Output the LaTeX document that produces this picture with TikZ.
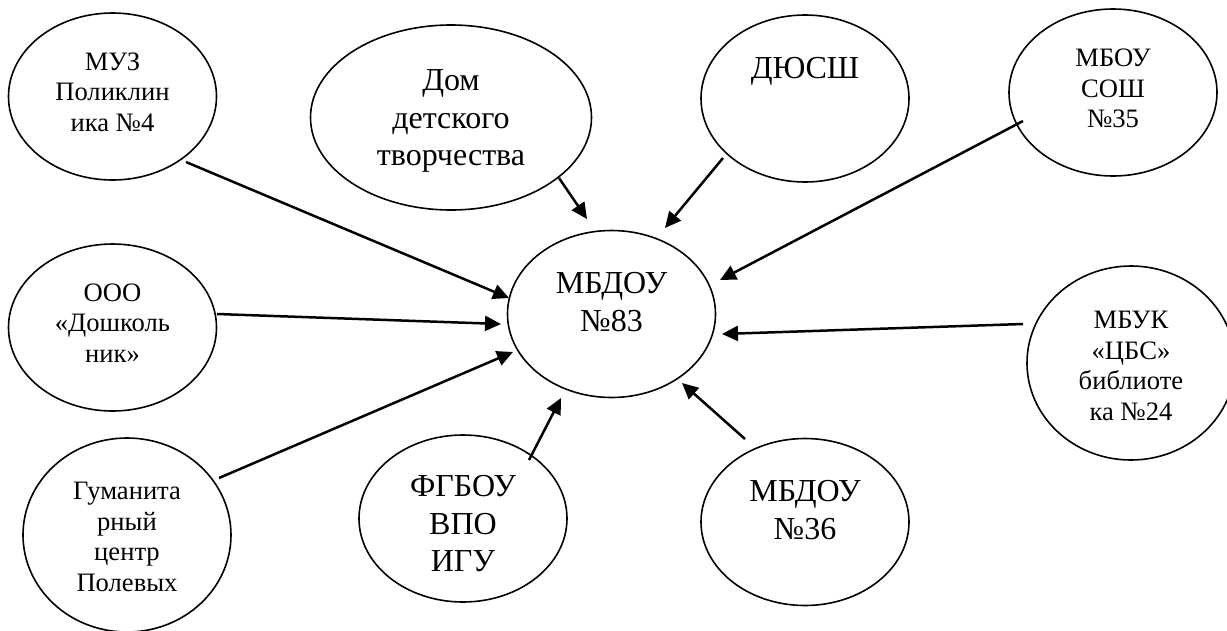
\documentclass[tikz,border=0pt]{standalone}
\usepackage{fontspec}
\setmainfont{Liberation Serif}
\usetikzlibrary{shapes.geometric,arrows.meta}
\newcommand{\lab}[2]{\smash{\raisebox{#1}{\begin{tabular}{@{}c@{}}#2\end{tabular}}}}
\tikzset{x=1pt,y=-1pt,
 org/.style={draw=black,line width=1.6pt,ellipse,inner sep=0pt,text=black,minimum width=208,minimum height=167},
 link/.style={draw=black,line width=2.5pt,-{Triangle[length=16pt,width=15pt]}},
 fbig/.style={font=\fontsize{32}{37.5}\selectfont},
 fsmall/.style={font=\fontsize{26.6}{30.6}\selectfont}}
\begin{document}
\begin{tikzpicture}
\useasboundingbox (0,0) rectangle (1227,630);
\clip (0,0) rectangle (1227,630);
\node[org,fsmall] (muz) at (112.5,96.5) {\lab{-4.4pt}{МУЗ\\Поликлин\\ика №4}};
\node[org,fbig,minimum width=281,minimum height=185] (dom) at (451,117.5) {\lab{-9.5pt}{Дом\\детского\\творчества}};
\node[org,fbig] (dus) at (805,98.5) {\lab{21pt}{ДЮСШ}};
\node[org,fsmall] (sosh) at (1113,92.5) {\lab{-4.6pt}{МБОУ\\СОШ\\№35}};
\node[org,fbig] (c) at (611.5,314) {\lab{2.7pt}{МБДОУ\\№83}};
\node[org,fsmall] (ooo) at (112.5,327.5) {\lab{-4.2pt}{ООО\\«Дошколь\\ник»}};
\node[org,fsmall,minimum height=194] (gum) at (127,535) {\lab{-10.5pt}{Гуманита\\рный\\центр\\Полевых}};
\node[org,fbig] (fgb) at (463,518.5) {\lab{-14.5pt}{ФГБОУ\\ВПО\\ИГУ}};
\node[org,fbig] (mb36) at (805,522) {\lab{2.7pt}{МБДОУ\\№36}};
\node[org,fsmall,minimum height=194] (mbuk) at (1131,363) {\lab{-11.5pt}{МБУК\\«ЦБС»\\библиоте\\ка №24}};
\coordinate (a1) at (186,162); \coordinate (b1) at (509,298);
\coordinate (a2) at (559,178); \coordinate (b2) at (587,219);
\coordinate (a3) at (723,158); \coordinate (b3) at (665,228);
\coordinate (a4) at (1023,121); \coordinate (b4) at (720,280);
\coordinate (a5) at (217,314); \coordinate (b5) at (501,324);
\coordinate (a6) at (1023,324); \coordinate (b6) at (722,334);
\coordinate (a7) at (219,478); \coordinate (b7) at (513,352);
\coordinate (a8) at (529,460); \coordinate (b8) at (561,398);
\coordinate (a9) at (745,439); \coordinate (b9) at (682,383);
\draw[link] (a1) -- (b1);
\draw[link] (a2) -- (b2);
\draw[link] (a3) -- (b3);
\draw[link] (a4) -- (b4);
\draw[link] (a5) -- (b5);
\draw[link] (a6) -- (b6);
\draw[link] (a7) -- (b7);
\draw[link] (a8) -- (b8);
\draw[link] (a9) -- (b9);
\end{tikzpicture}
\end{document}
